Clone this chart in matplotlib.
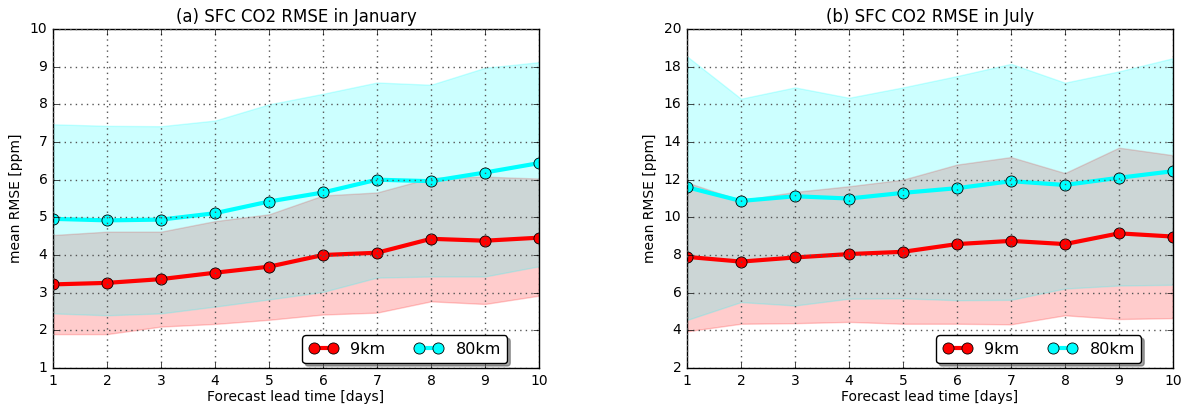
import numpy as np
import matplotlib
matplotlib.use("Agg")
import matplotlib.pyplot as plt

plt.style.use("classic")
plt.rcParams["font.family"] = ["DejaVu Sans"]

days = np.arange(1, 11)

# January
jan_9km = [3.22, 3.26, 3.36, 3.53, 3.69, 4.00, 4.06, 4.43, 4.38, 4.46]
jan_9km_lo = [1.90, 1.90, 2.10, 2.17, 2.28, 2.42, 2.47, 2.77, 2.70, 2.92]
jan_9km_hi = [4.53, 4.62, 4.62, 4.90, 5.08, 5.58, 5.66, 6.05, 6.08, 6.03]
jan_80km = [4.96, 4.92, 4.94, 5.11, 5.42, 5.66, 6.00, 5.96, 6.19, 6.44]
jan_80km_lo = [2.45, 2.40, 2.45, 2.63, 2.82, 3.02, 3.40, 3.43, 3.43, 3.70]
jan_80km_hi = [7.47, 7.43, 7.42, 7.57, 8.00, 8.28, 8.58, 8.52, 8.97, 9.12]

# July
jul_9km = [7.90, 7.65, 7.87, 8.05, 8.17, 8.58, 8.75, 8.58, 9.15, 8.98]
jul_9km_lo = [3.95, 4.35, 4.38, 4.45, 4.35, 4.35, 4.32, 4.80, 4.60, 4.65]
jul_9km_hi = [11.85, 10.90, 11.35, 11.65, 12.00, 12.80, 13.20, 12.35, 13.70, 13.30]
jul_80km = [11.60, 10.87, 11.12, 11.00, 11.30, 11.55, 11.92, 11.72, 12.10, 12.45]
jul_80km_lo = [4.55, 5.50, 5.32, 5.68, 5.70, 5.60, 5.62, 6.22, 6.38, 6.42]
jul_80km_hi = [18.55, 16.30, 16.90, 16.35, 16.90, 17.50, 18.15, 17.15, 17.75, 18.45]

fig = plt.figure(figsize=(11.83, 4.07), dpi=100, facecolor="white")
ax1 = fig.add_axes([0.0448, 0.0958, 0.4108, 0.8329])
ax2 = fig.add_axes([0.5807, 0.0958, 0.4108, 0.8329])


def panel(ax, m9, lo9, hi9, m80, lo80, hi80, ylim, title):
    ax.fill_between(days, lo9, hi9, color="red", alpha=0.2, linewidth=1)
    ax.fill_between(days, lo80, hi80, color="cyan", alpha=0.2, linewidth=1)
    ax.plot(days, m9, "-o", color="red", lw=3, ms=8, mec="black", mew=0.6, label="9km")
    ax.plot(days, m80, "-o", color="cyan", lw=3, ms=8, mec="black", mew=0.6, label="80km")
    ax.set_xlim(1, 10)
    ax.set_ylim(*ylim)
    ax.set_xticks(days)
    ax.grid(True, linestyle=":", color="#555555", linewidth=1)
    ax.set_title(title, fontsize=12)
    ax.set_xlabel("Forecast lead time [days]", fontsize=10, labelpad=2)
    ax.set_ylabel("mean RMSE [ppm]", fontsize=10)
    ax.tick_params(labelsize=10)
    leg = ax.legend(loc="lower right", bbox_to_anchor=(0.945, 0.0), ncol=2, numpoints=2,
                    fancybox=True, shadow=True, fontsize=11.5, borderaxespad=0.3,
                    columnspacing=1.8, handlelength=1.8)
    leg.get_frame().set_linewidth(1)


panel(ax1, jan_9km, jan_9km_lo, jan_9km_hi, jan_80km, jan_80km_lo, jan_80km_hi,
      (1, 10), "(a) SFC CO2 RMSE in January")
panel(ax2, jul_9km, jul_9km_lo, jul_9km_hi, jul_80km, jul_80km_lo, jul_80km_hi,
      (2, 20), "(b) SFC CO2 RMSE in July")

fig.savefig("out.png", dpi=100, facecolor="white")
